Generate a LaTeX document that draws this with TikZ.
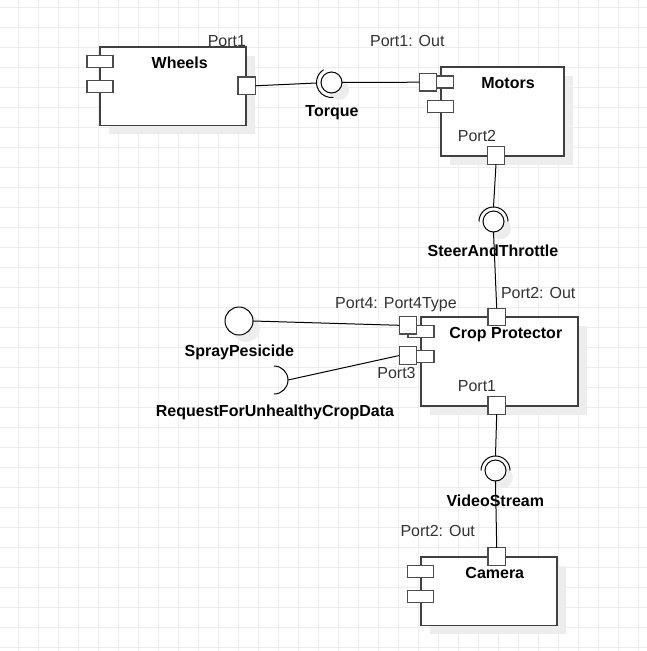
\documentclass[tikz,border=0pt]{standalone}
\usepackage{fontspec}
\setmainfont{Liberation Sans}
\usetikzlibrary{shadows}
\begin{document}
\begin{tikzpicture}[x=1pt,y=-1pt,
  every node/.style={inner sep=0pt, outer sep=0pt},
  lbl/.style={font=\fontsize{16}{19}\selectfont, text=black!80},
  ttl/.style={font=\fontsize{16}{19}\selectfont\bfseries, text=black},
  comp/.style={rectangle, draw=black!75, line width=1.2pt, fill=white,
    drop shadow={shadow xshift=8.5pt, shadow yshift=-8.5pt, fill=black!7, opacity=1}},
  icon/.style={rectangle, draw=black!70, line width=1.2pt, fill=white, minimum width=26pt, minimum height=12pt},
  portbox/.style={rectangle, draw=black!70, line width=1.2pt, fill=white, minimum size=17.5pt},
  ball/.style={circle, draw=black, line width=1pt, fill=white,
    drop shadow={shadow xshift=7pt, shadow yshift=-7pt, fill=black!7, opacity=1}},
  wire/.style={draw=black, line width=1pt},
  gridl/.style={draw=black!7, line width=1pt},
]
\useasboundingbox (0,0) rectangle (647,651);
\fill[white] (0,0) rectangle (647,651);
\foreach \i in {0,...,31} {\draw[gridl] ({18.5+20*\i},0) -- ({18.5+20*\i},651);}
\foreach \i in {0,...,32} {\draw[gridl] (0,{7+20*\i}) -- (647,{7+20*\i});}

% components
\node[comp, minimum width=146pt, minimum height=78.5pt] (wheels) at (173,86.25) {};
\node[comp, minimum width=123pt, minimum height=89pt] (motors) at (502.5,111.5) {};
\node[comp, minimum width=157pt, minimum height=89pt] (crop) at (499.5,361.5) {};
\node[comp, minimum width=136pt, minimum height=68.5pt] (camera) at (489,591.25) {};

% component icons
\node[icon] (wi1) at (100,61.7) {};
\node[icon] (wi2) at (100,86.7) {};
\node[icon] (mi1) at (440.5,82) {};
\node[icon] (mi2) at (440.5,106.7) {};
\node[icon] (ci1) at (421,331.7) {};
\node[icon] (ci2) at (421,356.5) {};
\node[icon] (ki1) at (420.5,571.7) {};
\node[icon] (ki2) at (420.5,596.7) {};

% ports
\node[portbox] (wport) at (246.7,85.8) {};
\node[portbox] (mport1) at (428,82.2) {};
\node[portbox] (mport2) at (496,155.5) {};
\node[portbox] (cport2) at (496.7,317) {};
\node[portbox] (cport4) at (408,325.3) {};
\node[portbox] (cport3) at (408,355.5) {};
\node[portbox] (cport1) at (496.7,405.5) {};
\node[portbox] (kport) at (496.7,556.5) {};

% interfaces
\node[ball, minimum size=21pt] (torque) at (331.5,82.5) {};
\draw[wire] (torque.center) ++(238:15) arc(238:83:15);
\coordinate (tqsock) at (316.5,83);

\node[ball, minimum size=21pt] (steer) at (493.5,221.5) {};
\draw[wire] (steer.center) ++(180:14.5) arc(180:360:14.5);
\coordinate (stsock) at (493.5,207);

\node[ball, minimum size=21pt] (video) at (495.5,470.5) {};
\draw[wire] (video.center) ++(180:14.5) arc(180:360:14.5);
\coordinate (vsock) at (495.5,456);

\node[ball, minimum size=28pt] (spray) at (239,321) {};

\coordinate (reqc) at (274,380);
\draw[wire] (reqc) ++(-90:14) arc(-90:90:14);
\coordinate (reqsock) at (288,380);

% connectors
\draw[wire] (wport.east) -- (tqsock);
\draw[wire] (torque.east) -- (mport1.west);
\draw[wire] (mport2.south) -- (stsock);
\draw[wire] (steer.south) -- (cport2.north);
\draw[wire] (spray.east) -- (cport4.west);
\draw[wire] (reqsock) -- (cport3.west);
\draw[wire] (cport1.south) -- (vsock);
\draw[wire] (video.south) -- (kport.north);

% titles
\node[ttl, anchor=base] (twheels) at (179.7,68.3) {Wheels};
\node[ttl, anchor=base] (tmotors) at (508,88.3) {Motors};
\node[ttl, anchor=base] (tcrop) at (505.8,338.3) {Crop Protector};
\node[ttl, anchor=base] (tcamera) at (494.8,578.3) {Camera};
\node[ttl, anchor=base] (ttorque) at (332,116.7) {Torque};
\node[ttl, anchor=base] (tsteer) at (493,256) {SteerAndThrottle};
\node[ttl, anchor=base] (tspray) at (239.3,356.7) {SprayPesicide};
\node[ttl, anchor=base] (treq) at (275,416.7) {RequestForUnhealthyCropData};
\node[ttl, anchor=base] (tvideo) at (495.3,506.7) {VideoStream};

% port labels
\node[lbl, anchor=base east] (lwp) at (246,46.7) {Port1};
\node[lbl, anchor=base] (lmp1) at (407.3,46.7) {Port1: Out};
\node[lbl, anchor=base] (lmp2) at (477,141.7) {Port2};
\node[lbl, anchor=base west] (lcp2) at (501,298.3) {Port2: Out};
\node[lbl, anchor=base] (lcp4) at (396,308) {Port4: Port4Type};
\node[lbl, anchor=base] (lcp3) at (396.5,378.3) {Port3};
\node[lbl, anchor=base] (lcp1) at (477,391.7) {Port1};
\node[lbl, anchor=base] (lkp) at (437.7,536.7) {Port2: Out};
\end{tikzpicture}
\end{document}
